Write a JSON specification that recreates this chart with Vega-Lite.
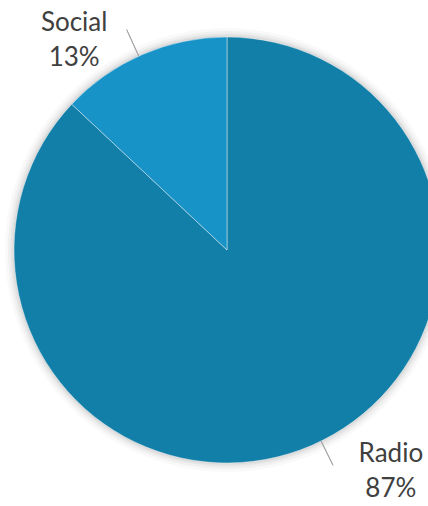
{
  "$schema": "https://vega.github.io/schema/vega-lite/v6.json",
  "width": 454,
  "height": 500,
  "autosize": {"type": "none"},
  "padding": 0,
  "background": "white",
  "config": {"view": {"stroke": null}},
  "data": {"values": [
    {"channel": "Radio", "share": 87},
    {"channel": "Social", "share": 13}
  ]},
  "transform": [
    {"stack": "share", "groupby": [], "sort": [{"field": "channel", "order": "ascending"}], "as": ["s0", "s1"]},
    {"calculate": "(datum.s0 + datum.s1) / 2", "as": "mid"},
    {"calculate": "datum.channel + '\\n' + datum.share + '%'", "as": "label"}
  ],
  "layer": [
    {
      "transform": [{"filter": "datum.channel === 'Radio'"}],
      "mark": {"type": "arc", "theta": 0, "theta2": 6.2832, "outerRadius": 222, "fill": "#000000", "fillOpacity": 0.025},
      "encoding": {}
    },
    {
      "transform": [{"filter": "datum.channel === 'Radio'"}],
      "mark": {"type": "arc", "theta": 0, "theta2": 6.2832, "outerRadius": 219, "fill": "#000000", "fillOpacity": 0.035},
      "encoding": {}
    },
    {
      "transform": [{"filter": "datum.channel === 'Radio'"}],
      "mark": {"type": "arc", "theta": 0, "theta2": 6.2832, "outerRadius": 216.5, "fill": "#000000", "fillOpacity": 0.045},
      "encoding": {}
    },
    {
      "transform": [{"filter": "datum.channel === 'Radio'"}],
      "mark": {"type": "arc", "theta": 0, "theta2": 6.2832, "outerRadius": 214.5, "fill": "#000000", "fillOpacity": 0.05},
      "encoding": {}
    },
    {
      "mark": {"type": "arc", "outerRadius": 213, "stroke": "#ffffff", "strokeWidth": 0.6, "strokeOpacity": 0.7},
      "encoding": {
        "theta": {"field": "s0", "type": "quantitative", "scale": {"domain": [0, 100]}},
        "theta2": {"field": "s1"},
        "color": {"field": "channel", "type": "nominal", "scale": {"domain": ["Radio", "Social"], "range": ["#127FA8", "#1893C7"]}, "legend": null}
      }
    },
    {
      "transform": [{"filter": "datum.channel === 'Social'"}],
      "mark": {"type": "arc", "theta": 5.856, "theta2": 5.856, "outerRadius": 242, "innerRadius": 213, "stroke": "#A6A6A6", "strokeWidth": 1, "fill": null},
      "encoding": {}
    },
    {
      "transform": [{"filter": "datum.channel === 'Radio'"}],
      "mark": {"type": "arc", "theta": 2.684, "theta2": 2.684, "outerRadius": 240, "innerRadius": 213, "stroke": "#A6A6A6", "strokeWidth": 1, "fill": null},
      "encoding": {}
    },
    {
      "transform": [{"filter": "datum.channel === 'Social'"}],
      "mark": {"type": "text", "font": "Lato", "fontSize": 26, "lineHeight": 35, "lineBreak": "\n", "color": "#404040", "align": "center", "baseline": "middle", "radius": 260, "thetaOffset": -0.22, "dy": -17},
      "encoding": {
        "theta": {"field": "mid", "type": "quantitative", "scale": {"domain": [0, 100]}},
        "text": {"field": "label"}
      }
    },
    {
      "transform": [{"filter": "datum.channel === 'Radio'"}],
      "mark": {"type": "text", "font": "Lato", "fontSize": 26, "lineHeight": 35, "lineBreak": "\n", "color": "#404040", "align": "center", "baseline": "middle", "radius": 280, "thetaOffset": -0.23, "dy": -21, "dx": -3},
      "encoding": {
        "theta": {"field": "mid", "type": "quantitative", "scale": {"domain": [0, 100]}},
        "text": {"field": "label"}
      }
    }
  ]
}
